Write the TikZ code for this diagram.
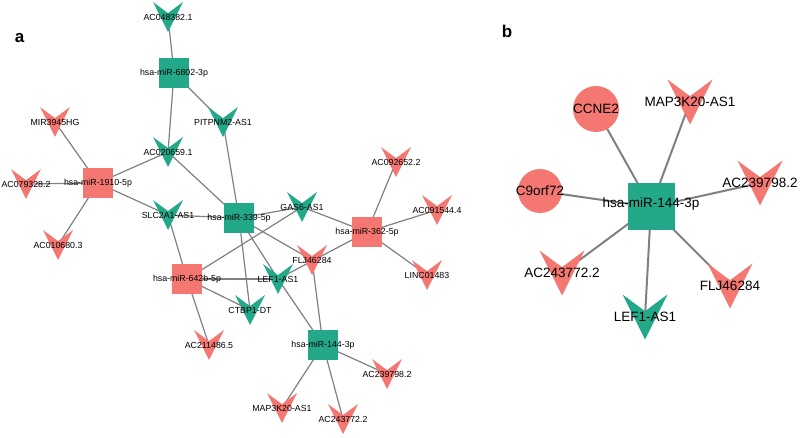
\documentclass[tikz,border=0pt]{standalone}
\usepackage{fontspec}
\setmainfont{Liberation Sans}
\usetikzlibrary{calc, backgrounds}
\definecolor{mirteal}{RGB}{36, 168, 138}
\definecolor{lncred}{RGB}{244, 119, 114}
\definecolor{edgegray}{RGB}{128, 128, 128}

\begin{document}
\begin{tikzpicture}[
    x=1pt, y=-1pt,
    % Node styles
    mirsq/.style={
        rectangle,
        fill=#1,
        minimum size=30pt,
        inner sep=0pt
    },
    vmark/.style={
        rectangle,
        minimum size=30pt,
        inner sep=0pt,
        path picture={
            \fill[#1] (path picture bounding box.north west)
                -- ($(path picture bounding box.center)!0.26!(path picture bounding box.north)$)
                -- (path picture bounding box.north east)
                -- (path picture bounding box.south) -- cycle;
        }
    },
    genecirc/.style={
        circle,
        fill=#1,
        minimum size=44pt,
        inner sep=0pt
    },
    alab/.style={
        font=\fontsize{8.8}{10}\selectfont,
        inner sep=0pt
    },
    blab/.style={
        font=\fontsize{13.5}{15}\selectfont,
        inner sep=0pt
    },
    link/.style={
        color=edgegray,
        line width=#1
    },
    link/.default=1.2pt,
    panel/.style={
        font=\fontsize{17}{20}\selectfont\bfseries,
        anchor=base,
        inner sep=0pt
    }
]
\useasboundingbox (0,0) rectangle (800,438);

% ============================================
% PANEL A: miRNA squares
% ============================================
\node[panel] (lettera) at (19.5, 43) {a};

\node[mirsq=mirteal, label={[alab]center:hsa-miR-6802-3p}] (mir6802) at (174, 73) {};
\node[mirsq=lncred, label={[alab]center:hsa-miR-1910-5p}] (mir1910) at (98, 183) {};
\node[mirsq=mirteal, label={[alab]center:hsa-miR-339-5p}] (mir339) at (239, 218) {};
\node[mirsq=lncred, label={[alab]center:hsa-miR-642b-5p}] (mir642) at (187, 279) {};
\node[mirsq=lncred, label={[alab]center:hsa-miR-362-5p}] (mir362) at (367, 232) {};
\node[mirsq=mirteal, label={[alab]center:hsa-miR-144-3p}] (mir144) at (323, 345) {};

% ============================================
% PANEL A: lncRNA targets
% ============================================
\node[vmark=mirteal, label={[alab]center:AC048382.1}] (ac048) at (168, 17) {};
\node[vmark=mirteal, label={[alab]center:PITPNM2-AS1}] (pitpnm) at (223, 122) {};
\node[vmark=lncred, label={[alab]center:MIR3945HG}] (mir3945) at (55, 122) {};
\node[vmark=mirteal, label={[alab]center:AC020659.1}] (ac020) at (168, 152) {};
\node[vmark=lncred, label={[alab]center:AC079328.2}] (ac079) at (26, 184) {};
\node[vmark=mirteal, label={[alab]center:SLC2A1-AS1}] (slc) at (168, 215) {};
\node[vmark=lncred, label={[alab]center:AC010680.3}] (ac010) at (58, 245) {};
\node[vmark=mirteal, label={[alab]center:CTBP1-DT}] (ctbp) at (250, 310) {};
\node[vmark=lncred, label={[alab]center:AC211486.5}] (ac211) at (209, 345) {};
\node[vmark=mirteal, label={[alab]center:GAS6-AS1}] (gas6) at (302, 207) {};
\node[vmark=lncred, label={[alab]center:AC092652.2}] (ac092) at (396, 162) {};
\node[vmark=lncred, label={[alab]center:AC091544.4}] (ac091) at (437, 210) {};
\node[vmark=lncred, label={[alab]center:LINC01483}] (linc) at (427, 275) {};
\node[vmark=lncred, label={[alab]center:FLJ46284}] (flj) at (312, 260) {};
\node[vmark=mirteal, label={[alab]center:LEF1-AS1}] (lef) at (278, 279) {};
\node[vmark=lncred, label={[alab]center:AC239798.2}] (ac239) at (387, 374) {};
\node[vmark=lncred, label={[alab]center:MAP3K20-AS1}] (map3k) at (282, 408) {};
\node[vmark=lncred, label={[alab]center:AC243772.2}] (ac243) at (343, 419) {};

% ============================================
% PANEL B: hsa-miR-144-3p network
% ============================================
\node[panel] (letterb) at (507, 38) {b};

\node[mirsq=mirteal, minimum size=47pt, label={[blab, yshift=3pt]center:hsa-miR-144-3p}] (bmir) at (651, 207) {};
\node[genecirc=lncred, minimum size=46pt, label={[blab]center:CCNE2}] (bccne) at (596, 109) {};
\node[genecirc=lncred, label={[blab]center:C9orf72}] (bc9) at (540, 191) {};
\node[vmark=lncred, minimum size=45pt, label={[blab]center:MAP3K20-AS1}] (bmap) at (690, 102) {};
\node[vmark=lncred, minimum size=45pt, label={[blab]center:AC239798.2}] (bac239) at (760, 183) {};
\node[vmark=lncred, minimum size=45pt, label={[blab]center:AC243772.2}] (bac243) at (562, 273) {};
\node[vmark=mirteal, minimum size=45pt, label={[blab]center:LEF1-AS1}] (blef) at (645, 317) {};
\node[vmark=lncred, minimum size=45pt, label={[blab]center:FLJ46284}] (bflj) at (730, 286) {};

% ============================================
% EDGES (behind the nodes)
% ============================================
\begin{scope}[on background layer]
    % hsa-miR-6802-3p
    \draw[link] (mir6802.center) -- (ac048.center);
    \draw[link] (mir6802.center) -- (ac020.center);
    \draw[link] (mir6802.center) -- (pitpnm.center);
    % hsa-miR-1910-5p
    \draw[link] (mir1910.center) -- (mir3945.center);
    \draw[link] (mir1910.center) -- (ac079.center);
    \draw[link] (mir1910.center) -- (ac010.center);
    \draw[link] (mir1910.center) -- (ac020.center);
    \draw[link] (mir1910.center) -- (slc.center);
    % hsa-miR-339-5p
    \draw[link] (mir339.center) -- (pitpnm.center);
    \draw[link] (mir339.center) -- (ac020.center);
    \draw[link] (mir339.center) -- (slc.center);
    \draw[link] (mir339.center) -- (gas6.center);
    \draw[link] (mir339.center) -- (flj.center);
    \draw[link] (mir339.center) -- (lef.center);
    \draw[link] (mir339.center) -- (ctbp.center);
    % hsa-miR-642b-5p
    \draw[link] (mir642.center) -- (slc.center);
    \draw[link] (mir642.center) -- (gas6.center);
    \draw[link] (mir642.center) -- (lef.center);
    \draw[link] (mir642.center) -- (ctbp.center);
    \draw[link] (mir642.center) -- (ac211.center);
    % hsa-miR-362-5p
    \draw[link] (mir362.center) -- (gas6.center);
    \draw[link] (mir362.center) -- (ac092.center);
    \draw[link] (mir362.center) -- (ac091.center);
    \draw[link] (mir362.center) -- (linc.center);
    \draw[link] (mir362.center) -- (lef.center);
    % hsa-miR-144-3p
    \draw[link] (mir144.center) -- (flj.center);
    \draw[link] (mir144.center) -- (lef.center);
    \draw[link] (mir144.center) -- (ac239.center);
    \draw[link] (mir144.center) -- (map3k.center);
    \draw[link] (mir144.center) -- (ac243.center);
    % panel b
    \foreach \tgt in {bccne, bc9, bmap, bac239, bac243, blef, bflj}
        \draw[link=2pt] (bmir.center) -- (\tgt.center);
\end{scope}

\end{tikzpicture}
\end{document}
